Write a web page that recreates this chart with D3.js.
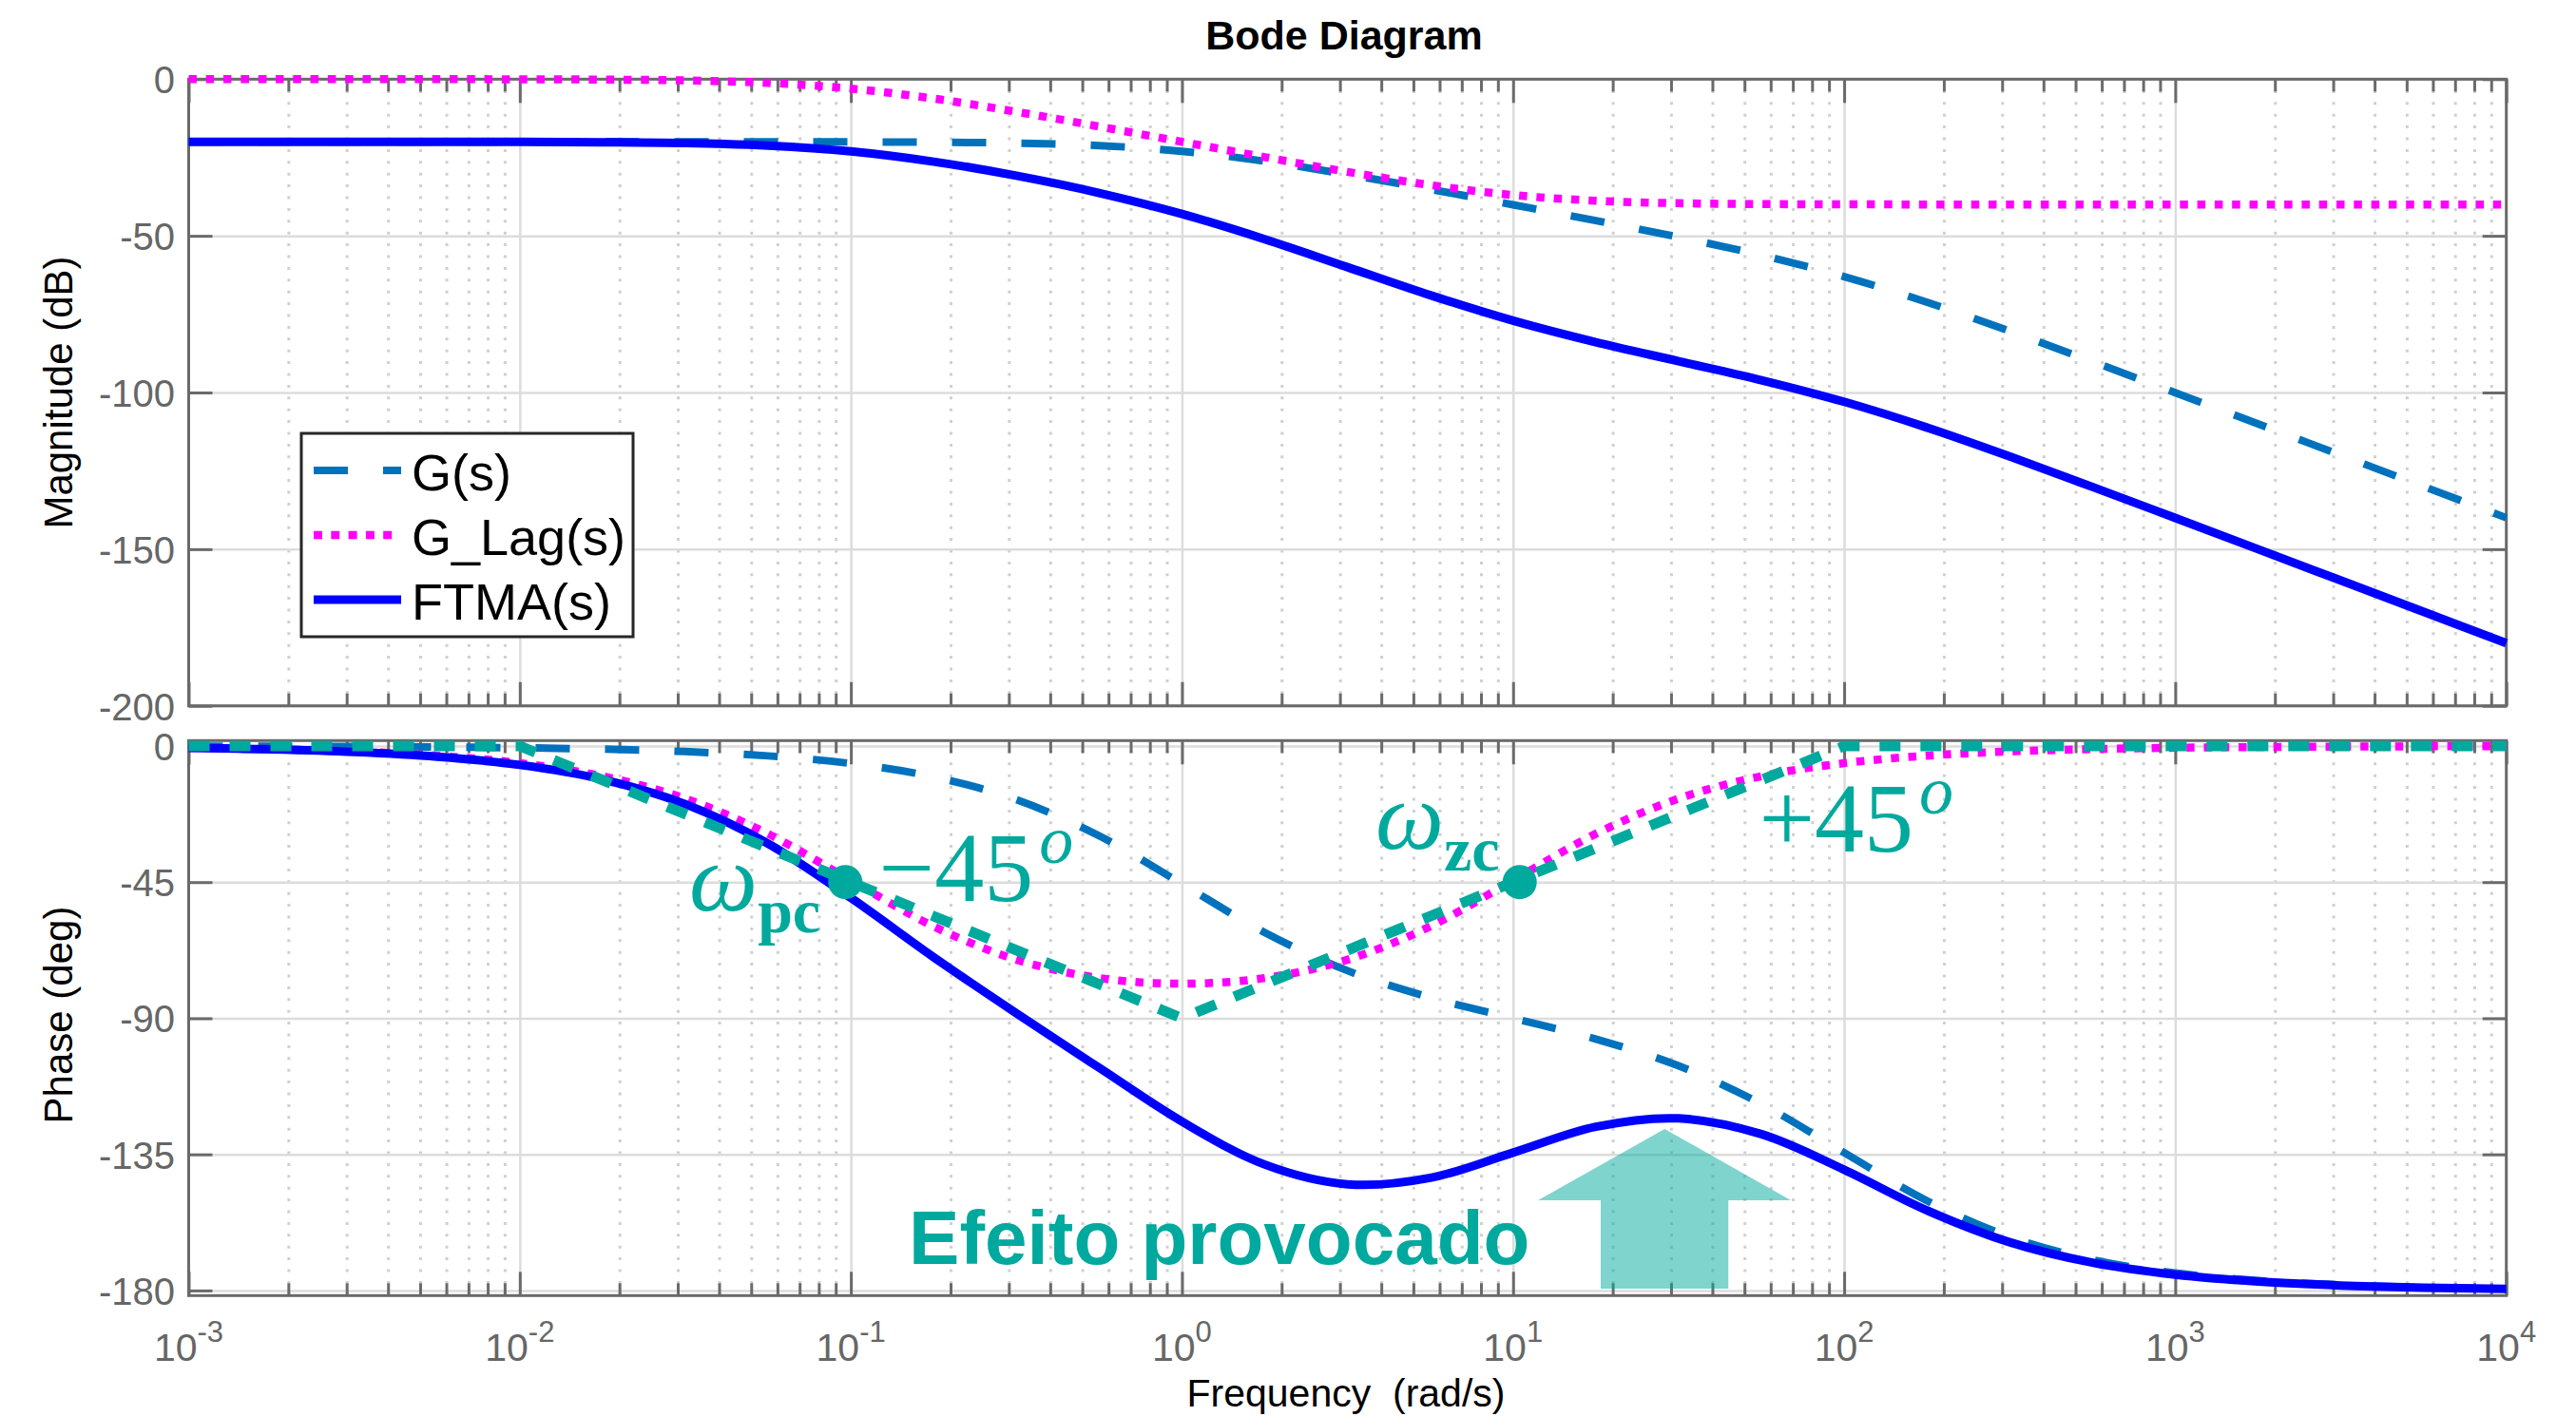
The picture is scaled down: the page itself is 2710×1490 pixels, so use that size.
<!DOCTYPE html>
<html>
<head>
<meta charset="utf-8">
<script src="https://cdn.jsdelivr.net/npm/d3@7"></script>
<style>
  body { margin: 0; background: #fff; }
  svg { display: block; }
</style>
</head>
<body>
<svg id="chart" width="2710" height="1490"></svg>
<script>
// Frequencies (rad/s), quarter-decade samples
const freq = [0.001, 0.001778, 0.003162, 0.005623,
              0.01, 0.01778, 0.03162, 0.05623,
              0.1, 0.1778, 0.3162, 0.5623,
              1, 1.778, 3.162, 5.623,
              10, 17.78, 31.62, 56.23,
              100, 177.8, 316.2, 562.3,
              1000, 1778, 3162, 5623, 10000];

// Magnitude (dB)
const magG = [-20, -20, -20, -20, -20, -20, -20, -20.01, -20.04, -20.14, -20.41, -21.19,
              -23.01, -26.19, -30.41, -35.14, -40.09, -45.15, -50.42, -56.19, -63.01,
              -71.19, -80.41, -90.14, -100.04, -110.01, -120, -130, -140];
const magLag = [0, 0, 0, -0.01, -0.04, -0.14, -0.41, -1.19, -3.01, -6.19, -10.41, -15.12,
                -20, -24.88, -29.59, -33.81, -36.99, -38.81, -39.59, -39.87, -39.96,
                -39.99, -40, -40, -40, -40, -40, -40, -40];
const magFTMA = [-20, -20, -20, -20.01, -20.04, -20.14, -20.41, -21.2, -23.05, -26.33, -30.82, -36.31,
                 -43.01, -51.07, -60, -68.95, -77.08, -83.96, -90.01, -96.06, -102.97,
                 -111.18, -120.41, -130.14, -140.04, -150.01, -160, -170, -180];

// Phase (deg)
const phG = [-0.06, -0.1, -0.18, -0.32, -0.58, -1.03, -1.83, -3.25, -5.77, -10.18, -17.73, -29.67,
             -45.57, -61.67, -74.26, -83.14, -90, -96.86, -105.74, -118.33, -134.43,
             -150.33, -162.27, -169.82, -174.23, -176.75, -178.17, -178.97, -179.42];
const phLag = [-0.57, -1.01, -1.79, -3.19, -5.65, -9.98, -17.37, -29.03, -44.43, -59.63, -70.64, -76.7,
               -78.58, -76.7, -70.64, -59.63, -44.43, -29.03, -17.37, -9.98, -5.65,
               -3.19, -1.79, -1.01, -0.57, -0.32, -0.18, -0.1, -0.06];
const phFTMA = [-0.63, -1.11, -1.97, -3.51, -6.23, -11.01, -19.2, -32.28, -50.2, -69.81, -88.37, -106.37,
                -124.15, -138.37, -144.9, -142.77, -134.43, -125.89, -123.11, -128.31, -140.08,
                -153.52, -164.06, -170.83, -174.8, -177.07, -178.35, -179.07, -179.48];

// asymptotic phase of the lag compensator
const asymFreq = [0.001, 0.01, 1, 100, 10000];
const asymPhase = [0, 0, -90, 0, 0];

// marked crossings
const markFreq = [0.0962, 10.47];
const markPhase = [-45, -45];

// arrow outline ("Efeito provocado")
const arrowFreq = [28.7, 69.0, 44.7, 44.7, 18.4, 18.4, 11.9];
const arrowPhase = [-126.6, -150.2, -150.2, -179.4, -179.4, -150.2, -150.2];

const magTicks = [0, -50, -100, -150, -200];
const phaseTicks = [0, -45, -90, -135, -180];
const decades = [1e-3, 1e-2, 1e-1, 1, 1e1, 1e2, 1e3, 1e4];
const decadeExp = ["-3", "-2", "-1", "0", "1", "2", "3", "4"];
const seriesNames = ["G(s)", "G_Lag(s)", "FTMA(s)"];

const SANS = "'Liberation Sans', Arial, Helvetica, sans-serif";
const SERIF = "'Liberation Serif', 'Times New Roman', serif";
const AXIS = "#6a6a6a", GRID = "#dcdcdc", MINOR = "#d0d0d0", TEAL = "#00a99d";

const styles = [
    { color: "#0072bd", width: 8, dash: "36,37" },
    { color: "#ff00ff", width: 8.5, dash: "8.5,9.8" },
    { color: "#0000ff", width: 9, dash: null }
];

const svg = d3.select("#chart");
const x = d3.scaleLog().domain([1e-3, 1e4]).range([198.5, 2636.7]);
const yMag = d3.scaleLinear().domain([-200, 0]).range([742.7, 83.3]);
const yPh = d3.scaleLinear().domain([-181.7, 1.8]).range([1363.3, 779.3]);
const [xL, xR] = x.range();

const minor = [];
decades.slice(0, -1).forEach(d => { for (let m = 2; m <= 9; m++) minor.push(d * m); });

function styleAxis(sel, color, width, dash) {
    sel.select(".domain").remove();
    sel.selectAll("text").remove();
    sel.selectAll("line").attr("stroke", color).attr("stroke-width", width)
        .attr("stroke-dasharray", dash || null);
}

function panel(y, ticks) {
    const [bottom, top] = y.range();
    const h = bottom - top;
    const g = svg.append("g");

    // grid
    g.append("g").attr("transform", `translate(0,${bottom})`)
        .call(d3.axisBottom(x).tickValues(minor).tickSize(-h).tickFormat(""))
        .call(s => styleAxis(s, MINOR, 3, "3,9.4"));
    g.append("g").attr("transform", `translate(0,${bottom})`)
        .call(d3.axisBottom(x).tickValues(decades.slice(1, -1)).tickSize(-h).tickFormat(""))
        .call(s => styleAxis(s, GRID, 2.5));
    g.append("g").attr("transform", `translate(${xL},0)`)
        .call(d3.axisLeft(y).tickValues(ticks).tickSize(-(xR - xL)).tickFormat(""))
        .call(s => styleAxis(s, GRID, 2.5));

    // box
    g.append("rect")
        .attr("x", xL).attr("y", top).attr("width", xR - xL).attr("height", h)
        .attr("fill", "none").attr("stroke", AXIS).attr("stroke-width", 3);

    // ticks (inward)
    g.append("g").attr("transform", `translate(0,${bottom})`)
        .call(d3.axisBottom(x).tickValues(decades).tickSize(-25).tickFormat(""))
        .call(s => styleAxis(s, AXIS, 3));
    g.append("g").attr("transform", `translate(0,${bottom})`)
        .call(d3.axisBottom(x).tickValues(minor).tickSize(-13).tickFormat(""))
        .call(s => styleAxis(s, AXIS, 3));
    g.append("g").attr("transform", `translate(0,${top})`)
        .call(d3.axisTop(x).tickValues(decades).tickSize(-25).tickFormat(""))
        .call(s => styleAxis(s, AXIS, 3));
    g.append("g").attr("transform", `translate(0,${top})`)
        .call(d3.axisTop(x).tickValues(minor).tickSize(-13).tickFormat(""))
        .call(s => styleAxis(s, AXIS, 3));
    g.append("g").attr("transform", `translate(${xL},0)`)
        .call(d3.axisLeft(y).tickValues(ticks).tickSize(-25).tickFormat(""))
        .call(s => styleAxis(s, AXIS, 3));
    g.append("g").attr("transform", `translate(${xR},0)`)
        .call(d3.axisRight(y).tickValues(ticks).tickSize(-25).tickFormat(""))
        .call(s => styleAxis(s, AXIS, 3));

    // y tick labels
    g.selectAll("text.ytl").data(ticks).join("text")
        .attr("class", "ytl")
        .attr("x", 184).attr("y", d => y(d) + 15)
        .attr("text-anchor", "end")
        .attr("font-family", SANS).attr("font-size", 40).attr("fill", "#666")
        .text(d => d);
    return g;
}

function drawSeries(y, series) {
    const g = svg.append("g");
    series.forEach((vals, i) => {
        const st = styles[i];
        const path = d3.line()
            .x((d, j) => x(freq[j]))
            .y(d => y(d))
            .curve(d3.curveCatmullRom.alpha(0.5))(vals);
        g.append("path")
            .attr("d", path)
            .attr("fill", "none")
            .attr("stroke", st.color)
            .attr("stroke-width", st.width)
            .attr("stroke-dasharray", st.dash);
    });
    return g;
}

panel(yMag, magTicks);
panel(yPh, phaseTicks);

drawSeries(yMag, [magG, magLag, magFTMA]);
drawSeries(yPh, [phG, phLag, phFTMA]);

// asymptote of the lag phase
svg.append("path")
    .attr("d", d3.line().x((d, i) => x(asymFreq[i])).y(d => yPh(d))(asymPhase))
    .attr("fill", "none")
    .attr("stroke", TEAL)
    .attr("stroke-width", 11)
    .attr("stroke-dasharray", "22,21");

// markers
svg.selectAll("circle.mark").data(markPhase).join("circle")
    .attr("class", "mark")
    .attr("cx", (d, i) => x(markFreq[i]))
    .attr("cy", d => yPh(d))
    .attr("r", 18)
    .attr("fill", TEAL);

// arrow
svg.append("polygon")
    .attr("points", arrowPhase.map((p, i) => [x(arrowFreq[i]), yPh(p)].join(",")).join(" "))
    .attr("fill", TEAL)
    .attr("fill-opacity", 0.5);

// annotations
function omega(w, p, sub) {
    const t = svg.append("text")
        .attr("x", x(w)).attr("y", yPh(p))
        .attr("font-family", SERIF).attr("fill", TEAL);
    t.append("tspan").attr("font-style", "italic").attr("font-size", 102).text("ω");
    t.append("tspan").attr("font-weight", "bold").attr("font-size", 66).attr("dy", 23).text(sub);
}
function degree(w, p, label) {
    const t = svg.append("text")
        .attr("x", x(w)).attr("y", yPh(p))
        .attr("font-family", SERIF).attr("fill", TEAL);
    t.append("tspan").attr("font-size", 104).text(label);
    t.append("tspan").attr("font-style", "italic").attr("font-size", 72)
        .attr("dx", 6).attr("dy", -40).text("o");
}
omega(0.0325, -54.4, "pc");
degree(0.1215, -51.2, "\u221245");
omega(3.84, -33.9, "zc");
degree(55.3, -34.9, "+45");

svg.append("text")
    .attr("x", x(0.1496)).attr("y", yPh(-171.2))
    .attr("font-family", SANS).attr("font-weight", "bold").attr("font-size", 80)
    .attr("fill", TEAL)
    .text("Efeito provocado");

// x tick labels
const xl = svg.selectAll("text.xtl").data(decades).join("text")
    .attr("class", "xtl")
    .attr("x", d => x(d)).attr("y", 1432)
    .attr("text-anchor", "middle")
    .attr("font-family", SANS).attr("fill", "#666");
xl.append("tspan").attr("font-size", 41).text("10");
xl.append("tspan").attr("font-size", 31).attr("dy", -20).text((d, i) => decadeExp[i]);

// legend
const leg = svg.append("g");
leg.append("rect")
    .attr("x", 317).attr("y", 456).attr("width", 349).attr("height", 214)
    .attr("fill", "#fff").attr("stroke", "#262626").attr("stroke-width", 3);
seriesNames.forEach((name, i) => {
    const ly = 495 + i * 68;
    const st = styles[i];
    leg.append("line")
        .attr("x1", 330).attr("x2", i === 1 ? 413 : 422).attr("y1", ly).attr("y2", ly)
        .attr("stroke", st.color).attr("stroke-width", st.width)
        .attr("stroke-dasharray", i === 1 ? "9,9.3" : st.dash);
    leg.append("text")
        .attr("x", 433).attr("y", ly + 21)
        .attr("font-family", SANS).attr("font-size", 54).attr("fill", "#000")
        .text(name);
});

// titles
svg.append("text")
    .attr("x", 1414).attr("y", 52).attr("text-anchor", "middle")
    .attr("font-family", SANS).attr("font-weight", "bold").attr("font-size", 43)
    .attr("fill", "#000").text("Bode Diagram");

svg.append("text")
    .attr("x", 1416).attr("y", 1480).attr("text-anchor", "middle")
    .attr("font-family", SANS).attr("font-size", 41).attr("fill", "#000")
    .style("white-space", "pre")
    .text("Frequency  (rad/s)");

svg.append("text")
    .attr("transform", "translate(76,413) rotate(-90)")
    .attr("text-anchor", "middle")
    .attr("font-family", SANS).attr("font-size", 42).attr("fill", "#000")
    .text("Magnitude (dB)");

svg.append("text")
    .attr("transform", "translate(76,1068) rotate(-90)")
    .attr("text-anchor", "middle")
    .attr("font-family", SANS).attr("font-size", 42).attr("fill", "#000")
    .text("Phase (deg)");
</script>
</body>
</html>
